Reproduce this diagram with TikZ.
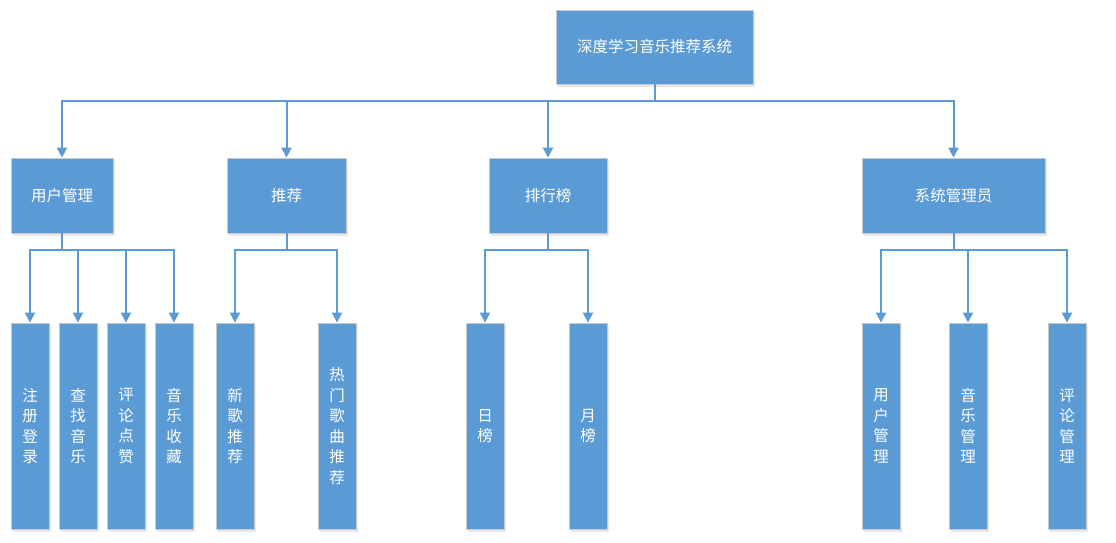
\documentclass[tikz,border=0pt]{standalone}
\usepackage{fontspec}
\newfontfamily\cjk{Noto Sans CJK SC}
\usetikzlibrary{arrows.meta,shadows}
\definecolor{boxblue}{HTML}{5B9BD5}
\definecolor{boxedge}{HTML}{C9C9C9}
\definecolor{lineblue}{HTML}{5B9BD5}
\tikzset{
  base/.style={fill=boxblue, draw=boxedge, line width=0.8pt, text=white, inner sep=0pt,
    font=\cjk\fontsize{15.5}{20.5}\selectfont, align=center,
    drop shadow={opacity=0.18, shadow xshift=2pt, shadow yshift=-3pt}},
  rootbox/.style={base, minimum width=197pt, minimum height=74pt},
  midbox/.style={base, minimum height=75pt},
  leafbox/.style={base, minimum width=38pt, minimum height=206pt},
  arr/.style={draw=lineblue, line width=2pt, -{Triangle[width=10pt,length=10pt]}},
}
\begin{document}
\begin{tikzpicture}[x=1pt,y=-1pt]
\useasboundingbox (0,0) rectangle (1116,542);
\node[rootbox] (root) at (654.5,47) {深度学习音乐推荐系统};

\node[midbox, minimum width=102pt] (u) at (62,195.5) {用户管理};
\node[midbox, minimum width=119pt] (r) at (286.5,195.5) {推荐};
\node[midbox, minimum width=118pt] (p) at (548,195.5) {排行榜};
\node[midbox, minimum width=183pt] (s) at (953.5,195.5) {系统管理员};

\node[leafbox] (u1) at (30,426) {注\\册\\登\\录};
\node[leafbox] (u2) at (78,426) {查\\找\\音\\乐};
\node[leafbox] (u3) at (126,426) {评\\论\\点\\赞};
\node[leafbox] (u4) at (174,426) {音\\乐\\收\\藏};

\node[leafbox] (r1) at (235,426) {新\\歌\\推\\荐};
\node[leafbox] (r2) at (337,426) {热\\门\\歌\\曲\\推\\荐};

\node[leafbox] (p1) at (485,426) {日\\榜};
\node[leafbox] (p2) at (588,426) {月\\榜};

\node[leafbox] (s1) at (881,426) {用\\户\\管\\理};
\node[leafbox] (s2) at (968,426) {音\\乐\\管\\理};
\node[leafbox] (s3) at (1067,426) {评\\论\\管\\理};

\foreach \c in {u,r,p,s} \draw[arr] (root.south) -- ++(0,17) -| (\c.north);
\foreach \c in {u1,u2,u3,u4} \draw[arr] (u.south) -- ++(0,17) -| (\c.north);
\foreach \c in {r1,r2} \draw[arr] (r.south) -- ++(0,17) -| (\c.north);
\foreach \c in {p1,p2} \draw[arr] (p.south) -- ++(0,17) -| (\c.north);
\foreach \c in {s1,s2,s3} \draw[arr] (s.south) -- ++(0,17) -| (\c.north);
\end{tikzpicture}
\end{document}
